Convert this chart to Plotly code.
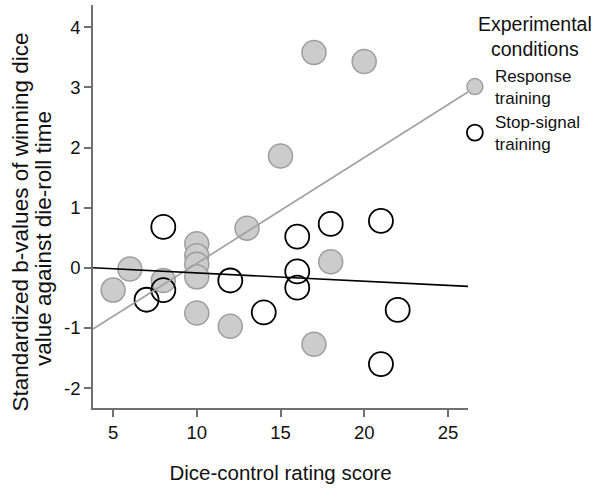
import numpy as np
import plotly.graph_objects as go

# Response training (filled gray)
resp_x = [5, 6, 8, 10, 10, 10, 10, 10, 12, 13, 15, 17, 17, 18, 20]
resp_y = [-0.37, -0.02, -0.21, 0.40, 0.20, 0.06, -0.15, -0.75, -0.97, 0.66, 1.86, 3.58, -1.27, 0.10, 3.43]

# Stop-signal training (open)
stop_x = [7, 8, 8, 12, 14, 16, 16, 16, 18, 21, 21, 22]
stop_y = [-0.53, 0.68, -0.37, -0.21, -0.74, 0.52, -0.06, -0.33, 0.73, 0.78, -1.60, -0.70]

x_range = [3.8, 26.2]
y_range = [-2.33, 4.37]
x_ticks = [5, 10, 15, 20, 25]
x_tick_labels = ["5", "10", "15", "20", "25"]
y_ticks = [-2, -1, 0, 1, 2, 3, 4]
y_tick_labels = ["-2", "-1", "0", "1", "2", "3", "4"]

y_title_lines = ["Standardized b-values of winning dice", "value against die-roll time"]
x_title = "Dice-control rating score"
legend_title = "Experimental<br>conditions"

FONT = "Liberation Sans, Arial, sans-serif"

def fit_line(xs, ys):
    b, a = np.polyfit(xs, ys, 1)
    xx = np.array(x_range)
    return xx, a + b * xx

fig = go.Figure()
fig.add_trace(go.Scatter(
    x=resp_x, y=resp_y, mode="markers", name="Response<br>training",
    marker=dict(size=24, color="#cccccc", line=dict(color="#9e9e9e", width=1.5)),
    legend="legend",
))
fig.add_trace(go.Scatter(
    x=stop_x, y=stop_y, mode="markers", name="Stop-signal<br>training",
    marker=dict(size=24, color="rgba(0,0,0,0)", line=dict(color="#000000", width=1.8)),
    legend="legend2",
))
lx, ly = fit_line(resp_x, resp_y)
fig.add_trace(go.Scatter(x=lx, y=ly, mode="lines", showlegend=False,
                         line=dict(color="#a0a0a0", width=1.6), hoverinfo="skip"))
lx, ly = fit_line(stop_x, stop_y)
fig.add_trace(go.Scatter(x=lx, y=ly, mode="lines", showlegend=False,
                         line=dict(color="#000000", width=1.6), hoverinfo="skip"))

legend_common = dict(xanchor="left", yanchor="top", font=dict(size=17),
                     tracegroupgap=0, itemwidth=30, bgcolor="rgba(0,0,0,0)")

fig.update_layout(
    template="none",
    width=600, height=491,
    margin=dict(l=93, r=132, t=5, b=83),
    paper_bgcolor="white", plot_bgcolor="white",
    font=dict(family=FONT, size=18.5, color="#111111"),
    showlegend=True,
    legend=dict(x=0.965, y=0.8685, **legend_common),
    legend2=dict(x=0.965, y=0.7543, **legend_common),
    annotations=[
        dict(text=legend_title, xref="paper", yref="paper",
             x=1.179, y=0.922, xanchor="center", yanchor="middle",
             showarrow=False, font=dict(size=19.5), align="center"),
        dict(text=y_title_lines[0], xref="paper", yref="paper", textangle=-90,
             x=(20 - 93) / 375, y=(408 - 222.5) / 403, xanchor="center", yanchor="middle",
             showarrow=False, font=dict(size=22.5)),
        dict(text=y_title_lines[1], xref="paper", yref="paper", textangle=-90,
             x=(44 - 93) / 375, y=(408 - 239) / 403, xanchor="center", yanchor="middle",
             showarrow=False, font=dict(size=22.5)),
    ],
    xaxis=dict(
        range=x_range, tickvals=x_ticks, ticktext=x_tick_labels,
        showgrid=False, zeroline=False, automargin=False,
        showline=True, linecolor="#707070", linewidth=1.5,
        ticks="outside", ticklen=7, tickcolor="#707070", tickwidth=1.5,
        title=dict(text=x_title, font=dict(size=20.5)),
    ),
    yaxis=dict(
        range=y_range, tickvals=y_ticks, ticktext=y_tick_labels,
        showgrid=False, zeroline=False, automargin=False,
        showline=True, linecolor="#707070", linewidth=1.5,
        ticks="outside", ticklen=7, tickcolor="#707070", tickwidth=1.5,
    ),
)

fig.write_html("out.html", config={"displayModeBar": False},
               post_script="document.body.style.margin='0';")
